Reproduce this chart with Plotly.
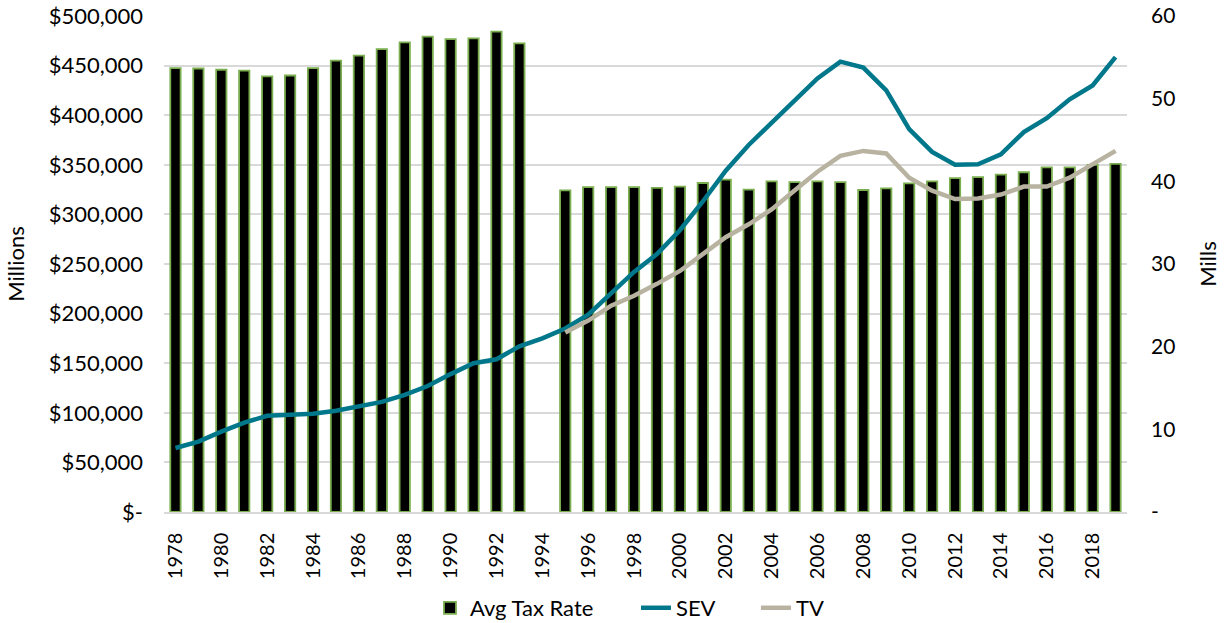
import plotly.graph_objects as go

years = list(range(1978, 2020))

avg_tax_rate = [53.7, 53.65, 53.5, 53.4, 52.7, 52.8, 53.7, 54.6, 55.2, 56.0, 56.8, 57.5, 57.2, 57.3, 58.1, 56.7,
                None,
                38.9, 39.3, 39.3, 39.3, 39.2, 39.35, 39.8, 40.2, 39.0, 40.0, 39.9, 40.0, 39.9, 38.95, 39.15,
                39.75, 40.0, 40.4, 40.5, 40.8, 41.1, 41.7, 41.7, 42.0, 42.1]

sev = [64500, 71000, 81000, 90000, 97000, 97500, 99000, 102000, 106000, 111000, 118000, 127000, 139000,
       150000, 154000, 167000, 175000, 185000, 199000, 220000, 242000, 260000, 284000, 313000, 344000,
       370000, 392000, 415000, 437000, 454000, 448000, 425000, 386000, 363000, 350000, 350500, 360500,
       383000, 397000, 416000, 430000, 458500]

tv = [None] * 17 + [181000, 193000, 208000, 218000, 230000, 243000, 260000, 277000, 290000, 305000,
                    324000, 343000, 359000, 364000, 361500, 337000, 324000, 315500, 316000, 320000,
                    328000, 328000, 337000, 350500, 364000]

left_tickvals = list(range(0, 500001, 50000))
left_ticktext = ["$-"] + ["${:,}".format(v) for v in left_tickvals[1:]]
right_tickvals = [0, 10, 20, 30, 40, 50, 60]
right_ticktext = ["-"] + [str(v) for v in right_tickvals[1:]]
x_tickvals = list(range(1978, 2019, 2))

FONT = "Lato"
LEG_Y = -0.1935
leg_common = dict(orientation="h", y=LEG_Y, yanchor="middle", xanchor="left",
                  font=dict(size=22), bgcolor="rgba(0,0,0,0)")

fig = go.Figure()
fig.add_trace(go.Bar(
    x=years, y=avg_tax_rate, name="Avg Tax Rate", yaxis="y", legend="legend",
    marker=dict(color="#000000", line=dict(color="#7AAE4F", width=1.8)),
    width=0.45,
))
fig.add_trace(go.Scatter(
    x=years, y=sev, name="SEV", yaxis="y2", mode="lines", legend="legend2",
    line=dict(color="#00778A", width=4.5),
))
fig.add_trace(go.Scatter(
    x=years, y=tv, name="TV", yaxis="y2", mode="lines", legend="legend3",
    line=dict(color="#B8B2A1", width=4.5),
))

fig.update_layout(
    width=1228, height=623,
    margin=dict(l=164, r=101, t=16, b=111, autoexpand=False),
    paper_bgcolor="white", plot_bgcolor="white",
    font=dict(family=FONT, size=21, color="#000000"),
    showlegend=True,
    legend=dict(x=0.2762, **leg_common),
    legend2=dict(x=0.4901, **leg_common),
    legend3=dict(x=0.6147, **leg_common),
    xaxis=dict(
        range=[1977.5, 2019.5], tickvals=x_tickvals, ticktext=[str(v) for v in x_tickvals],
        tickangle=-90, showgrid=False, showline=True, linecolor="#d9d9d9", linewidth=1.5,
        ticks="", tickfont=dict(size=20), zeroline=False, ticklabelstandoff=11,
    ),
    yaxis=dict(
        side="right", range=[0, 60], tickvals=right_tickvals, ticktext=right_ticktext,
        showgrid=False, zeroline=False, ticks="", tickfont=dict(size=21), ticklabelstandoff=23,
        ticklabeloverflow="allow",
        title=dict(text="Mills", font=dict(size=22), standoff=26),
    ),
    yaxis2=dict(
        side="left", overlaying="y", range=[0, 500000], tickvals=left_tickvals, ticktext=left_ticktext,
        showgrid=True, gridcolor="#d9d9d9", gridwidth=1.5, zeroline=False, ticks="",
        tickfont=dict(size=22), ticklabelstandoff=20, ticklabeloverflow="allow",
        title=dict(text="Millions", font=dict(size=22), standoff=17),
    ),
)

fig.write_html("out.html", config={"displayModeBar": False},
               post_script="document.body.style.margin='0';")
